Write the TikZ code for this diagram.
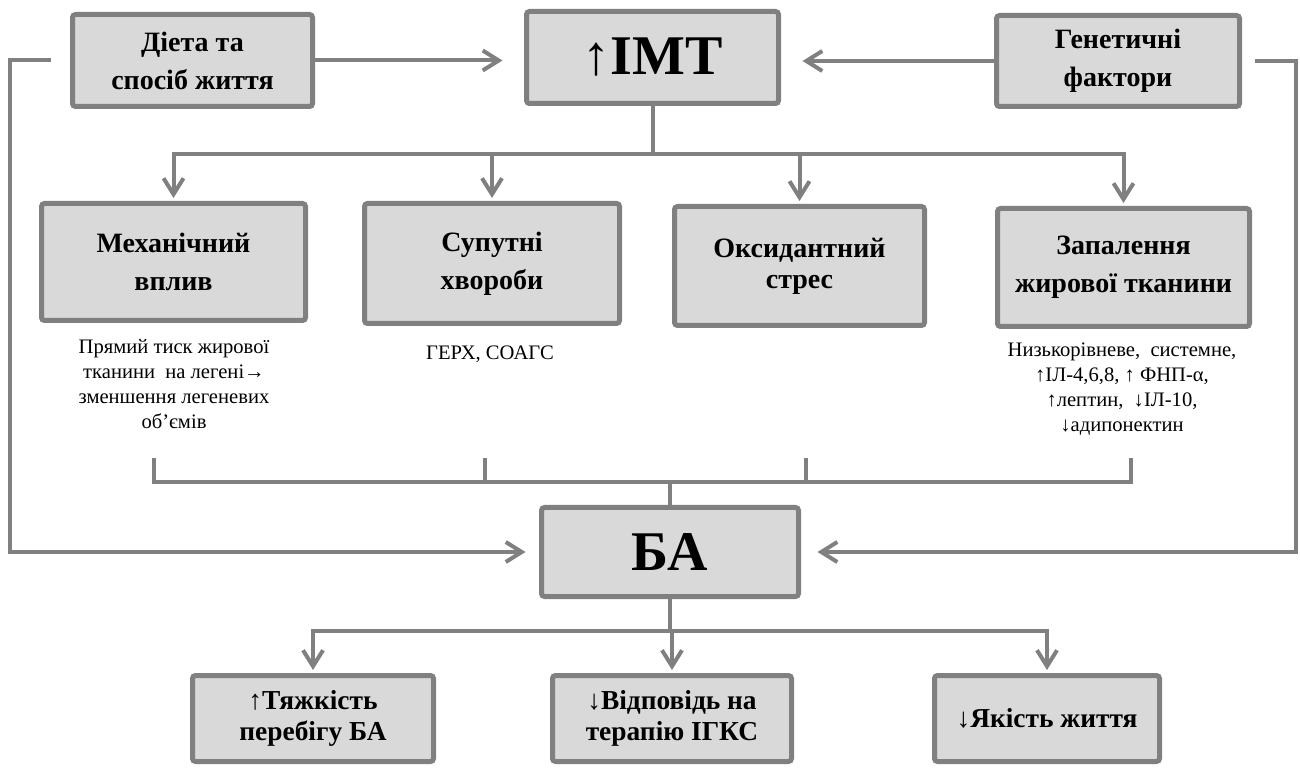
\documentclass[tikz,border=0pt]{standalone}
\usepackage{fontspec}
\setmainfont{Liberation Serif}
\usetikzlibrary{arrows.meta}
\definecolor{boxfill}{HTML}{D9D9D9}
\definecolor{linegray}{HTML}{808080}
\begin{document}
\begin{tikzpicture}[x=0.5pt,y=-0.5pt,
		>={Straight Barb[length=8pt,width=10pt]},
		box/.style={draw=linegray,line width=2.5pt,fill=boxfill,rounded corners=1.5pt,
			align=center,inner sep=0pt,font=\bfseries\fontsize{14}{19}\selectfont},
		bigbox/.style={box,font=\bfseries\fontsize{28}{30}\selectfont},
		endbox/.style={box,font=\bfseries\fontsize{13.7}{15.5}\selectfont},
		conn/.style={draw=linegray,line width=2pt},
		note/.style={align=center,inner sep=0pt,anchor=north,font=\fontsize{10.3}{12.5}\selectfont}]
	\useasboundingbox (0,0) rectangle (1300,769);
	% top row
	\node[box,minimum width=120pt,minimum height=46pt] (diet) at (192.5,60.5) {Діета та\\спосіб життя};
	\node[bigbox,minimum width=126pt,minimum height=46pt] (imt) at (652.5,57.5) {{\mdseries↑}ІМТ};
	\node[box,minimum width=121.5pt,minimum height=45.5pt] (gen) at (1118,61) {Генетичні\\фактори};
	% mechanisms
	\node[box,minimum width=132pt,minimum height=58.5pt] (mech) at (173.5,262) {Механічний\\вплив};
	\node[box,minimum width=127.5pt,minimum height=60pt] (sup) at (492,263.5) {Супутні\\хвороби};
	\node[box,minimum width=125pt,minimum height=59.5pt,font=\bfseries\fontsize{14}{15.5}\selectfont] (oks) at (799.5,266) {Оксидантний\\стрес};
	\node[box,minimum width=126pt,minimum height=59pt] (zap) at (1123.5,267.5) {Запалення\\жирової тканини};
	\node[note] (mechnote) at (174,339) {Прямий тиск жирової\\тканини\ \ на легені→\\зменшення легеневих\\об’ємів};
	\node[note] (supnote) at (490,345) {ГЕРХ, СОАГС};
	\node[note] (zapnote) at (1122,342) {Низькорівневе,\ \ системне,\\↑ІЛ-4,6,8, ↑ ФНП-α,\\↑лептин,\ \ ↓ІЛ-10,\\↓адипонектин};
	% asthma and outcomes
	\node[bigbox,minimum width=128.5pt,minimum height=44.5pt] (ba) at (670,552) {БА};
	\node[endbox,minimum width=120.5pt,minimum height=43pt] (tyazh) at (313,718.5) {{\mdseries↑}Тяжкість\\перебігу БА};
	\node[endbox,minimum width=119.5pt,minimum height=43pt] (vidp) at (672,718.5) {{\mdseries↓}Відповідь на\\терапію ІГКС};
	\node[endbox,minimum width=112.5pt,minimum height=43pt] (yak) at (1047,718.5) {{\mdseries↓}Якість життя};
	% connectors
	\coordinate (imtbus) at (652.5,154);
	\coordinate (babus) at (670,482);
	\coordinate (endbus) at (670,631);
	\draw[conn,->,shorten >=10.75pt] (diet.east) -- (diet.east -| imt.west);
	\draw[conn,->,shorten >=10.75pt] (gen.west) -- (gen.west -| imt.east);
	\draw[conn,->,shorten <=9.75pt,shorten >=6.75pt] (diet.west) -- ++(-60.5,0) |- (ba.west);
	\draw[conn,->,shorten <=6.25pt,shorten >=8.25pt] (gen.east) -- ++(53.5,0) |- (ba.east);
	\foreach \n in {mech,sup,oks,zap}
		\draw[conn,->,shorten >=1.5pt] (imt.south) -- (imtbus) -| (\n.north);
	\foreach \n/\x in {mech/154,sup/485,oks/806,zap/1131}{
		\coordinate (\n out) at (\x,458);
		\draw[conn] (\n out) |- (babus) -- (ba.north);
	}
	\foreach \n in {tyazh,vidp,yak}
		\draw[conn,->,shorten >=1.5pt] (ba.south) -- (endbus) -| (\n.north);
\end{tikzpicture}
\end{document}
